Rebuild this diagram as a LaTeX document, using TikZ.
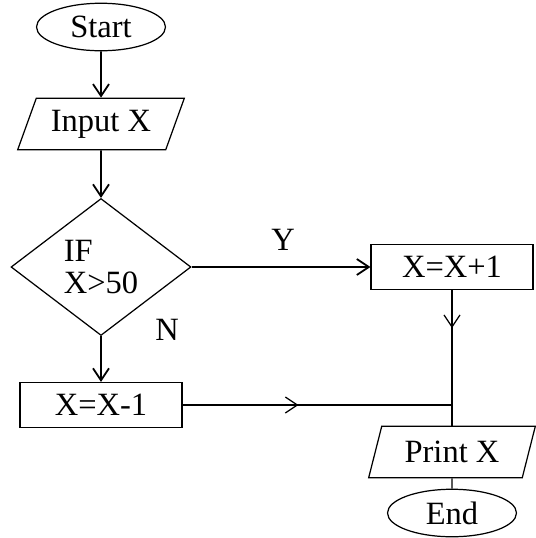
\documentclass[tikz,border=0pt]{standalone}
\usepackage{fontspec}
\setmainfont{Liberation Serif}
\usetikzlibrary{positioning, arrows.meta, shapes.geometric, decorations.markings}

\begin{document}
\begin{tikzpicture}[x=0.02cm, y=-0.02cm,
    font=\fontsize{18.5}{18.5}\selectfont,
    box/.style={draw, line width=0.7pt, minimum width=3.24cm,
                minimum height=0.9cm, inner sep=0pt},
    term/.style={ellipse, draw, line width=0.7pt, minimum width=2.58cm,
                 minimum height=0.95cm, inner sep=0pt},
    io/.style={trapezium, draw, line width=0.7pt, trapezium stretches=true,
               minimum width=3.34cm, minimum height=1.03cm, inner sep=0pt},
    test/.style={diamond, draw, line width=0.7pt, aspect=1.31,
                 minimum width=3.6cm, minimum height=2.74cm,
                 inner sep=0pt, align=left},
    flow/.style={line width=1pt, -{Straight Barb[length=0.24cm, width=0.32cm]}},
    link/.style={line width=0.7pt},
    midarrow/.style={postaction={decorate}, decoration={markings,
        mark=at position #1 with {\arrow{Straight Barb[length=0.24cm, width=0.32cm]}}}}]
        \useasboundingbox (0,0) rectangle (536,538);

        % left column
        \node[term] (start) at (101,27) {Start};
        \node[io, trapezium left angle=63, trapezium right angle=117]
          (inp) at (101,124) {Input X};
        \node[test] (cond) at (101,267) {IF\\X>50};
        \node[box] (dec) at (101,405) {X=X-1};

        % right column
        \node[box] (inc) at (452,267) {X=X+1};
        \node[io, trapezium left angle=68, trapezium right angle=112]
          (prt) at (452,452) {Print X};
        \node[term] (end) at (452,513) {End};

        % branch labels
        \node (yes) at (283,240) {Y};
        \node (no) at (167,330) {N};

        % connectors
        \draw[flow] (start) -- (inp);
        \draw[flow] (inp) -- (cond);
        \draw[flow] (cond) -- (dec);
        \draw[flow] (cond) -- (inc);
        \coordinate (join) at (inc.south |- dec.east);
        \draw[link, midarrow=0.43] (dec) -- (join);
        \draw[link, midarrow=0.28] (inc) -- (inc.south |- prt.north);
        \draw[link] (prt) -- (end);
      \end{tikzpicture}
\end{document}
